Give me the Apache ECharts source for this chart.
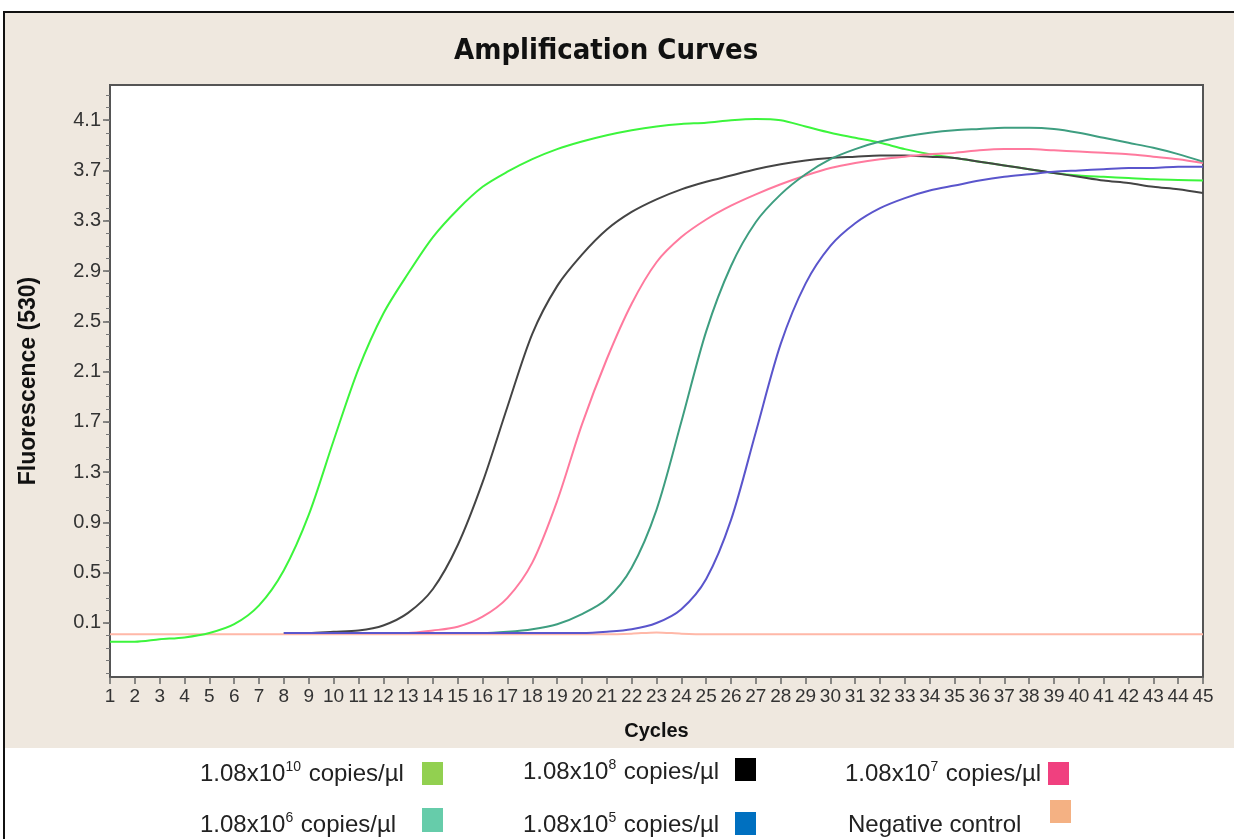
<!DOCTYPE html>
<html>
<head>
<meta charset="utf-8">
<script src="https://cdn.jsdelivr.net/npm/echarts@6/dist/echarts.min.js"></script>
<style>
html,body{margin:0;padding:0;background:#fff;}
#chart{width:1234px;height:839px;}
</style>
</head>
<body>
<div id="chart"></div>
<script>
// ---- data ----
const cycles = [1,2,3,4,5,6,7,8,9,10,11,12,13,14,15,16,17,18,19,20,21,22,23,24,25,26,27,28,29,30,31,32,33,34,35,36,37,38,39,40,41,42,43,44,45];
const yTickLabels = ['0.1','0.5','0.9','1.3','1.7','2.1','2.5','2.9','3.3','3.7','4.1'];

const seriesNames = ['1.08x10^10 copies/µl','1.08x10^8 copies/µl','1.08x10^7 copies/µl','1.08x10^6 copies/µl','1.08x10^5 copies/µl','Negative control'];
const legendBase = ['1.08x10','1.08x10','1.08x10','1.08x10','1.08x10','Negative control'];
const legendExp = ['10','8','7','6','5',''];
const legendSuffix = [' copies/µl',' copies/µl',' copies/µl',' copies/µl',' copies/µl',''];

const s10 = [-0.05,-0.05,-0.03,-0.015,0.02,0.09,0.24,0.52,0.96,1.55,2.12,2.56,2.88,3.17,3.39,3.57,3.69,3.79,3.87,3.93,3.98,4.02,4.05,4.07,4.08,4.10,4.11,4.10,4.05,4.00,3.96,3.92,3.87,3.83,3.80,3.77,3.74,3.71,3.68,3.66,3.65,3.64,3.63,3.625,3.62];
const s8 = [null,null,null,null,null,null,null,0.02,0.02,0.03,0.04,0.08,0.18,0.37,0.72,1.22,1.82,2.40,2.78,3.03,3.23,3.37,3.47,3.55,3.61,3.66,3.71,3.75,3.78,3.80,3.81,3.82,3.82,3.81,3.80,3.77,3.74,3.71,3.68,3.65,3.62,3.60,3.57,3.55,3.52];
const s7 = [null,null,null,null,null,null,null,0.02,0.02,0.02,0.02,0.02,0.02,0.04,0.07,0.15,0.30,0.58,1.07,1.68,2.20,2.64,2.97,3.17,3.31,3.42,3.51,3.59,3.66,3.72,3.76,3.79,3.81,3.83,3.84,3.86,3.87,3.87,3.86,3.85,3.84,3.83,3.81,3.79,3.76];
const s6 = [null,null,null,null,null,null,null,0.02,0.02,0.02,0.02,0.02,0.02,0.02,0.02,0.02,0.03,0.05,0.09,0.17,0.29,0.54,1.00,1.70,2.42,2.94,3.29,3.51,3.67,3.79,3.87,3.93,3.97,4.00,4.02,4.03,4.04,4.04,4.03,4.00,3.96,3.92,3.88,3.83,3.77];
const s5 = [null,null,null,null,null,null,null,0.02,0.02,0.02,0.02,0.02,0.02,0.02,0.02,0.02,0.02,0.02,0.02,0.02,0.03,0.05,0.10,0.21,0.45,0.92,1.62,2.32,2.80,3.10,3.28,3.40,3.48,3.54,3.58,3.62,3.65,3.67,3.69,3.70,3.71,3.72,3.72,3.73,3.73];
const neg = [0.01,0.01,0.01,0.01,0.01,0.01,0.01,0.01,0.01,0.01,0.01,0.01,0.01,0.01,0.01,0.01,0.01,0.01,0.01,0.01,0.01,0.015,0.025,0.015,0.01,0.01,0.01,0.01,0.01,0.01,0.01,0.01,0.01,0.01,0.01,0.01,0.01,0.01,0.01,0.01,0.01,0.01,0.01,0.01,0.01];

// ---- styles ----
const lineColors = ['#3CF53C','#444444','#FF7A9E','#3E9E80','#5A55CC','#FFB8A8'];
const legendColors = ['#92D050','#000000','#F0407F','#66CCAA','#0070C0','#F4B183'];
const seriesData = [s10, s8, s7, s6, s5, neg];

const majorTicks = yTickLabels.map(Number);
const minorTicks = [];
for (let i = -3; i <= 43; i++) minorTicks.push(i / 10);

const chart = echarts.init(document.getElementById('chart'), null, {renderer: 'canvas'});

const series = [];
const order = [5, 0, 1, 2, 3, 4];
order.forEach(function (k) {
  series.push({
    name: seriesNames[k],
    type: 'line',
    data: cycles.map(function (c, i) { return [c, seriesData[k][i]]; }),
    showSymbol: false,
    smooth: 0.3,
    connectNulls: false,
    lineStyle: {color: lineColors[k], width: 2},
    itemStyle: {color: lineColors[k]},
    emphasis: {disabled: true},
    silent: true,
    z: 2
  });
});

// legend graphics
const legendPos = [
  {tx: 200, ty: 772, bx: 422, by: 762, bh: 23},
  {tx: 523, ty: 770, bx: 735, by: 758, bh: 23},
  {tx: 845, ty: 772, bx: 1048, by: 762, bh: 23},
  {tx: 200, ty: 823, bx: 422, by: 808, bh: 24},
  {tx: 523, ty: 823, bx: 735, by: 812, bh: 23},
  {tx: 848, ty: 823, bx: 1050, by: 800, bh: 23}
];
const graphics = [
  {type: 'rect', shape: {x: 0, y: 0, width: 1234, height: 12}, style: {fill: '#ffffff'}, z: 1, silent: true},
  {type: 'rect', shape: {x: 0, y: 0, width: 3, height: 839}, style: {fill: '#ffffff'}, z: 1, silent: true},
  {type: 'rect', shape: {x: 0, y: 748, width: 1234, height: 91}, style: {fill: '#ffffff'}, z: 1, silent: true},
  {type: 'rect', shape: {x: 3, y: 11, width: 1231, height: 2}, style: {fill: '#111111'}, z: 2, silent: true},
  {type: 'rect', shape: {x: 3, y: 11, width: 2, height: 828}, style: {fill: '#111111'}, z: 2, silent: true}
];
legendPos.forEach(function (p, k) {
  let txt;
  if (legendExp[k]) {
    txt = '{a|' + legendBase[k] + '}{s|' + legendExp[k] + '}{a|' + legendSuffix[k] + '}';
  } else {
    txt = '{a|' + legendBase[k] + '}';
  }
  graphics.push({
    type: 'text', x: p.tx, y: p.ty, z: 3, silent: true,
    style: {
      text: txt,
      verticalAlign: 'middle',
      align: 'left',
      rich: {
        a: {fontFamily: 'Liberation Sans, Arial, sans-serif', fontSize: 24, fill: '#222', lineHeight: 28, verticalAlign: 'bottom'},
        s: {fontFamily: 'Liberation Sans, Arial, sans-serif', fontSize: 14, fill: '#222', lineHeight: 28, verticalAlign: 'top', padding: [2, 1, 0, 0]}
      }
    }
  });
  graphics.push({
    type: 'rect', z: 3, silent: true,
    shape: {x: p.bx, y: p.by, width: 21, height: p.bh},
    style: {fill: legendColors[k]}
  });
});

const option = {
  animation: false,
  backgroundColor: '#EFE8DF',
  title: {
    text: 'Amplification Curves',
    left: 449,
    top: 32,
    textStyle: {fontFamily: 'DejaVu Sans Condensed', fontWeight: 'bold', fontSize: 29, color: '#111'}
  },
  grid: {
    left: 110, right: 31, top: 85, bottom: 162,
    show: true, backgroundColor: '#ffffff', borderColor: '#555', borderWidth: 2,
    containLabel: false
  },
  xAxis: {
    type: 'value', min: 1, max: 45, interval: 1,
    name: 'Cycles', nameLocation: 'middle', nameGap: 44,
    nameTextStyle: {fontFamily: 'Liberation Sans, Arial', fontWeight: 'bold', fontSize: 20, color: '#111'},
    axisLine: {show: true, onZero: false, lineStyle: {color: '#555', width: 2}},
    axisTick: {show: true, length: 7, lineStyle: {color: '#666', width: 1.5}},
    axisLabel: {fontFamily: 'Liberation Sans, Arial, sans-serif', fontSize: 19, color: '#333', margin: 10, showMinLabel: true, showMaxLabel: true, hideOverlap: false, interval: 0},
    splitLine: {show: false}
  },
  yAxis: [{
    type: 'value', min: -0.33, max: 4.38,
    name: 'Fluorescence (530)', nameLocation: 'middle', nameGap: 70, nameRotate: 90,
    nameTextStyle: {fontFamily: 'Liberation Sans, Arial', fontWeight: 'bold', fontSize: 23, color: '#111'},
    axisLine: {show: true, onZero: false, lineStyle: {color: '#555', width: 2}},
    axisTick: {show: true, length: 7, customValues: majorTicks, lineStyle: {color: '#666', width: 1.5}},
    axisLabel: {customValues: majorTicks, formatter: function (v) { return v.toFixed(1); },
      fontFamily: 'Liberation Sans, Arial, sans-serif', fontSize: 20, color: '#333', margin: 9},
    splitLine: {show: false}
  }, {
    type: 'value', min: -0.33, max: 4.38, position: 'left',
    axisLine: {show: false, onZero: false},
    axisTick: {show: true, length: 4, customValues: minorTicks, lineStyle: {color: '#777', width: 1}},
    axisLabel: {show: false},
    splitLine: {show: false}
  }],
  graphic: graphics,
  series: series
};
chart.setOption(option);
</script>
</body>
</html>
